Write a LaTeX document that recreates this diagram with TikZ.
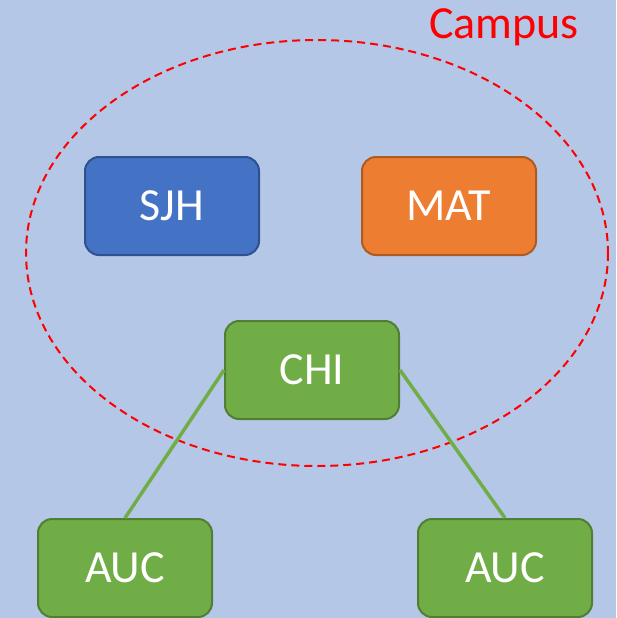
\documentclass[tikz,border=0pt]{standalone}
\usepackage{fontspec}
\setmainfont{Carlito}
\definecolor{bg}{HTML}{B4C7E7}
\definecolor{blu}{HTML}{4472C4}
\definecolor{bluD}{HTML}{2F528F}
\definecolor{org}{HTML}{ED7D31}
\definecolor{orgD}{HTML}{AE5A21}
\definecolor{grn}{HTML}{70AD47}
\definecolor{grnD}{HTML}{507E32}
\tikzset{
  box/.style={rectangle, rounded corners=14pt, minimum width=174pt, minimum height=98pt,
    line width=2pt, text=white, font=\fontsize{46}{54}\selectfont, inner sep=0pt},
  bluebox/.style={box, fill=blu, draw=bluD},
  orangebox/.style={box, fill=org, draw=orgD},
  greenbox/.style={box, fill=grn, draw=grnD},
  link/.style={draw=grn, line width=3.5pt},
}
\begin{document}
\begin{tikzpicture}[x=1pt,y=-1pt]
\fill[bg] (0,0) rectangle (616,618);
\useasboundingbox (0,0) rectangle (616,618);
\draw[red, line width=2pt, dash pattern=on 8pt off 5pt] (317,253) ellipse [x radius=291, y radius=213];
\node[text=red, font=\fontsize{46}{54}\selectfont] (campus) at (504,27) {Campus};
\node[bluebox] (sjh) at (172,206) {SJH};
\node[orangebox] (mat) at (449,206) {MAT};
\node[greenbox] (chi) at (312,370) {CHI};
\node[greenbox] (auc1) at (125,568) {AUC};
\node[greenbox] (auc2) at (505,568) {AUC};
\draw[link] (chi.west) -- (auc1.north);
\draw[link] (chi.east) -- (auc2.north);
\end{tikzpicture}
\end{document}
